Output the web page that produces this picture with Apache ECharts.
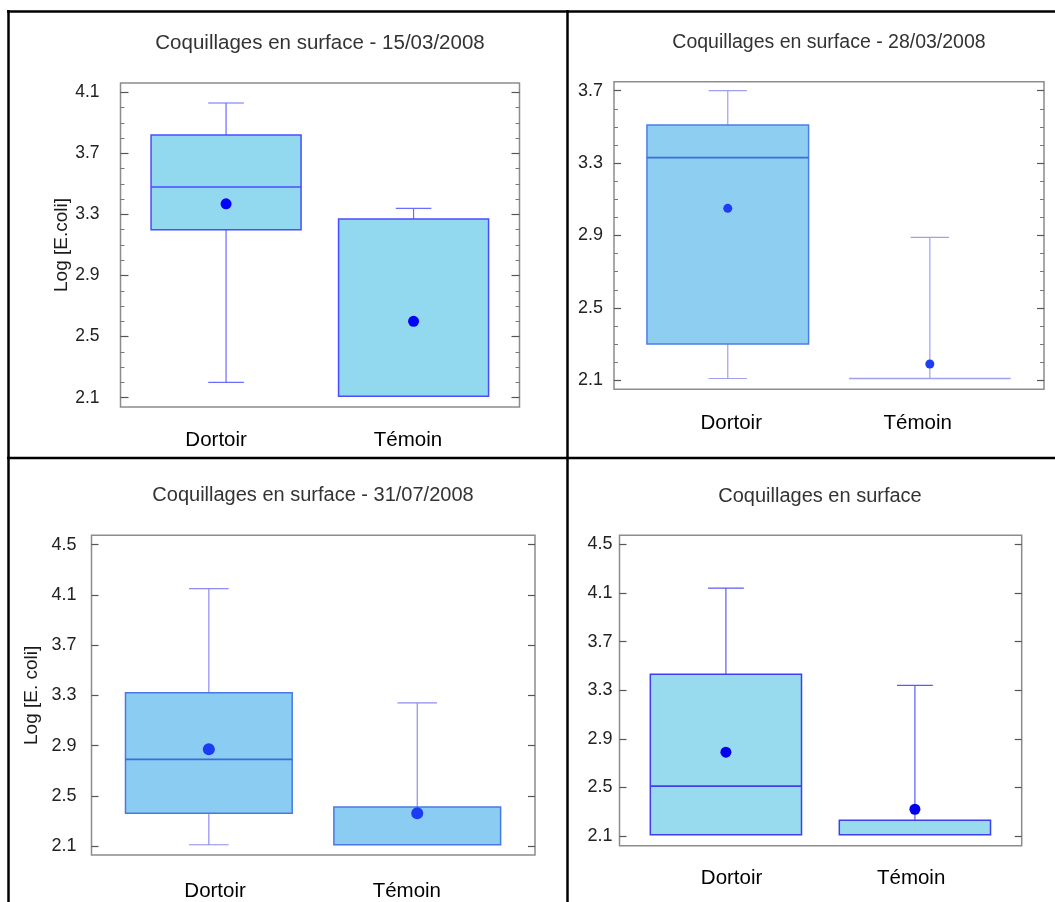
<!DOCTYPE html>
<html><head><meta charset="utf-8">
<script src="https://cdn.jsdelivr.net/npm/echarts@6/dist/echarts.min.js"></script>
<style>html,body{margin:0;padding:0;background:#fff}#c{width:1055px;height:902px}</style>
</head><body><div id="c"></div>
<script>
// ---------- data ----------
const categories = ['Dortoir', 'Témoin'];
const titles = ['Coquillages en surface - 15/03/2008', 'Coquillages en surface - 28/03/2008',
                'Coquillages en surface - 31/07/2008', 'Coquillages en surface'];
const yNames = ['Log [E.coli]', '', 'Log [E. coli]', ''];
// box values: [min, Q1, median, Q3, max] for Dortoir, Témoin
const box1 = [[2.20, 3.20, 3.48, 3.82, 4.03], [2.11, 2.11, 2.11, 3.27, 3.34]];
const mean1 = [3.37, 2.60];
const box2 = [[2.11, 2.30, 3.33, 3.51, 3.70], [2.11, 2.11, 2.11, 2.11, 2.89]];
const mean2 = [3.05, 2.19];
const box3 = [[2.11, 2.36, 2.79, 3.32, 4.15], [2.11, 2.11, 2.11, 2.41, 3.24]];
const mean3 = [2.87, 2.36];
const box4 = [[2.11, 2.11, 2.51, 3.43, 4.14], [2.11, 2.11, 2.11, 2.23, 3.34]];
const mean4 = [2.79, 2.32];
const ticks1 = [2.1, 2.5, 2.9, 3.3, 3.7, 4.1];
const ticks2 = [2.1, 2.5, 2.9, 3.3, 3.7];
const ticks3 = [2.1, 2.5, 2.9, 3.3, 3.7, 4.1, 4.5];
const ticks4 = [2.1, 2.5, 2.9, 3.3, 3.7, 4.1, 4.5];

const boxes = [box1, box2, box3, box4];
const means = [mean1, mean2, mean3, mean4];
const ticks = [ticks1, ticks2, ticks3, ticks4];

// ---------- layout / style ----------
const XMIN = -0.563, XMAX = 1.565, BOXW = 0.8, CAPW = 0.19;
const FONT = '"Liberation Sans", Arial, sans-serif';
const layout = [
  {fl:120.5, fw:399, ft:83, fh:324, tt:92.3, th:305.4, title:[320,43,20.5], labM:21, labF:17.5, tickLen:8, minor:true,
   labX:[-0.053,0.97], catM:23, nameGap:45, dot:11,
   fill:'#92D9F0', border:'#4B4BFF', median:'#4B4BFF', whisker:'#6B6BFF', dotC:'#0000FF'},
  {fl:614, fw:430, ft:81.7, fh:307.6, tt:90.7, th:289.6, title:[829,43,19.5], labM:11, labF:18, tickLen:7, minor:true,
   labX:[0.017,0.94], catM:24, nameGap:40, dot:9,
   fill:'#8ECEF0', border:'#4D7EE6', median:'#3A6CE0', whisker:'#A0A0F0', dotC:'#1E3DF2'},
  {fl:91.5, fw:443.5, ft:535.3, fh:319.7, tt:544.7, th:301.3, title:[313,495,20], labM:15, labF:18, tickLen:7, minor:false,
   labX:[0.03,0.95], catM:26, nameGap:50, dot:12,
   fill:'#8BCDF2', border:'#4A78E2', median:'#3A6CE0', whisker:'#8C8CF0', dotC:'#1B3BF4'},
  {fl:619.5, fw:402.2, ft:535.3, fh:310.4, tt:544.3, th:291.7, title:[820,496,20], labM:7, labF:18, tickLen:7, minor:false,
   labX:[0.03,0.98], catM:22, nameGap:40, dot:11,
   fill:'#98DBEE', border:'#3F3FF0', median:'#3F3FF0', whisker:'#5A5AF5', dotC:'#0000EE'}
];

function ln(x1, y1, x2, y2, style) {
  return {type: 'line', shape: {x1, y1, x2, y2}, style};
}
function makeRender(st) {
  return function (params, api) {
    const x = api.value(0);
    const v = [1, 2, 3, 4, 5].map(d => api.value(d));
    const c = v.map(val => api.coord([x, val]));
    const cx = c[0][0];
    const hw = api.size([BOXW, 0])[0] / 2;
    const hc = api.size([CAPW, 0])[0] / 2;
    const yMin = c[0][1], yQ1 = c[1][1], yMed = c[2][1], yQ3 = c[3][1], yMax = c[4][1];
    const wl = {stroke: st.whisker, lineWidth: 1.2, fill: null};
    const ch = [];
    if (v[4] > v[3]) { ch.push(ln(cx, yQ3, cx, yMax, wl)); ch.push(ln(cx - hc, yMax, cx + hc, yMax, wl)); }
    if (v[1] > v[0]) { ch.push(ln(cx, yQ1, cx, yMin, wl)); ch.push(ln(cx - hc, yMin, cx + hc, yMin, wl)); }
    if (v[3] > v[1]) {
      ch.push({type: 'rect', shape: {x: cx - hw, y: yQ3, width: 2 * hw, height: yQ1 - yQ3},
               style: {fill: st.fill, stroke: st.border, lineWidth: 1.5}});
      if (v[2] > v[1] && v[2] < v[3]) ch.push(ln(cx - hw, yMed, cx + hw, yMed, {stroke: st.median, lineWidth: 1.6}));
    } else {
      ch.push(ln(cx - hw, yQ1, cx + hw, yQ1, {stroke: st.whisker, lineWidth: 1.6}));
    }
    return {type: 'group', children: ch};
  };
}

const grid = [], xAxis = [], yAxis = [], series = [], graphic = [];
layout.forEach((p, k) => {
  const gF = grid.length;
  grid.push({left: p.fl, top: p.ft, width: p.fw, height: p.fh, show: true, borderColor: '#8c8c8c', borderWidth: 1.5, containLabel: false});
  const gD = grid.length;
  grid.push({left: p.fl, top: p.tt, width: p.fw, height: p.th, show: false, containLabel: false});
  // frame grid axes (category labels)
  xAxis.push({gridIndex: gF, type: 'value', min: XMIN, max: XMAX,
    axisLine: {show: false, onZero: false}, axisTick: {show: false}, splitLine: {show: false},
    axisLabel: {customValues: p.labX, margin: p.catM, fontSize: 20.5, fontFamily: FONT, color: '#000',
      formatter: (val) => { const i = p.labX.findIndex(q => Math.abs(q - val) < 1e-6); return i >= 0 ? categories[i] : ''; }}});
  yAxis.push({gridIndex: gF, type: 'value', show: false, min: 0, max: 1, axisLine: {onZero: false}});
  // data grid axes
  const xD = xAxis.length;
  xAxis.push({gridIndex: gD, type: 'value', min: XMIN, max: XMAX, show: false, axisLine: {show: false, onZero: false}});
  const t = ticks[k];
  const yL = yAxis.length;
  const common = {gridIndex: gD, type: 'value', min: t[0], max: t[t.length - 1], interval: 0.4,
    axisLine: {show: false, onZero: false}, splitLine: {show: false},
    axisTick: {show: true, inside: true, length: p.tickLen, lineStyle: {color: '#555', width: 1.2}},
    minorTick: {show: p.minor, splitNumber: 4, length: 4, lineStyle: {color: '#777', width: 1}},
    minorSplitLine: {show: false}};
  yAxis.push(Object.assign({}, common, {position: 'left',
    name: yNames[k], nameLocation: 'middle', nameGap: p.nameGap, nameRotate: 90,
    nameTextStyle: {fontSize: 19, fontFamily: FONT, color: '#1a1a1a'},
    axisLabel: {margin: p.labM, fontSize: p.labF, fontFamily: FONT, color: '#222', formatter: (v) => v.toFixed(1)}}));
  yAxis.push(Object.assign({}, common, {position: 'right', axisLabel: {show: false}}));
  series.push({type: 'custom', xAxisIndex: xD, yAxisIndex: yL, clip: false,
    renderItem: makeRender(p),
    encode: {x: 0, y: [1, 2, 3, 4, 5]},
    data: boxes[k].map((b, i) => [i].concat(b)), z: 2});
  series.push({type: 'scatter', xAxisIndex: xD, yAxisIndex: yL, symbol: 'circle', symbolSize: p.dot,
    itemStyle: {color: p.dotC, opacity: 1}, data: means[k].map((m, i) => [i, m]), z: 3, silent: true});
  graphic.push({type: 'text', x: p.title[0], y: p.title[1],
    style: {text: titles[k], fill: '#333', font: p.title[2] + 'px ' + FONT,
      textAlign: 'center', textVerticalAlign: 'middle', align: 'center', verticalAlign: 'middle'}});
});
// panel separator lines
const BL = {stroke: '#000', lineWidth: 2.5};
graphic.push({type: 'line', shape: {x1: 7, y1: 11.5, x2: 1055, y2: 11.5}, style: BL});
graphic.push({type: 'line', shape: {x1: 8.5, y1: 10, x2: 8.5, y2: 902}, style: BL});
graphic.push({type: 'line', shape: {x1: 567.5, y1: 10, x2: 567.5, y2: 902}, style: BL});
graphic.push({type: 'line', shape: {x1: 7, y1: 458, x2: 1055, y2: 458}, style: BL});

const chart = echarts.init(document.getElementById('c'), null, {renderer: 'canvas'});
chart.setOption({animation: false, backgroundColor: '#fff', grid, xAxis, yAxis, series, graphic});
</script></body></html>
